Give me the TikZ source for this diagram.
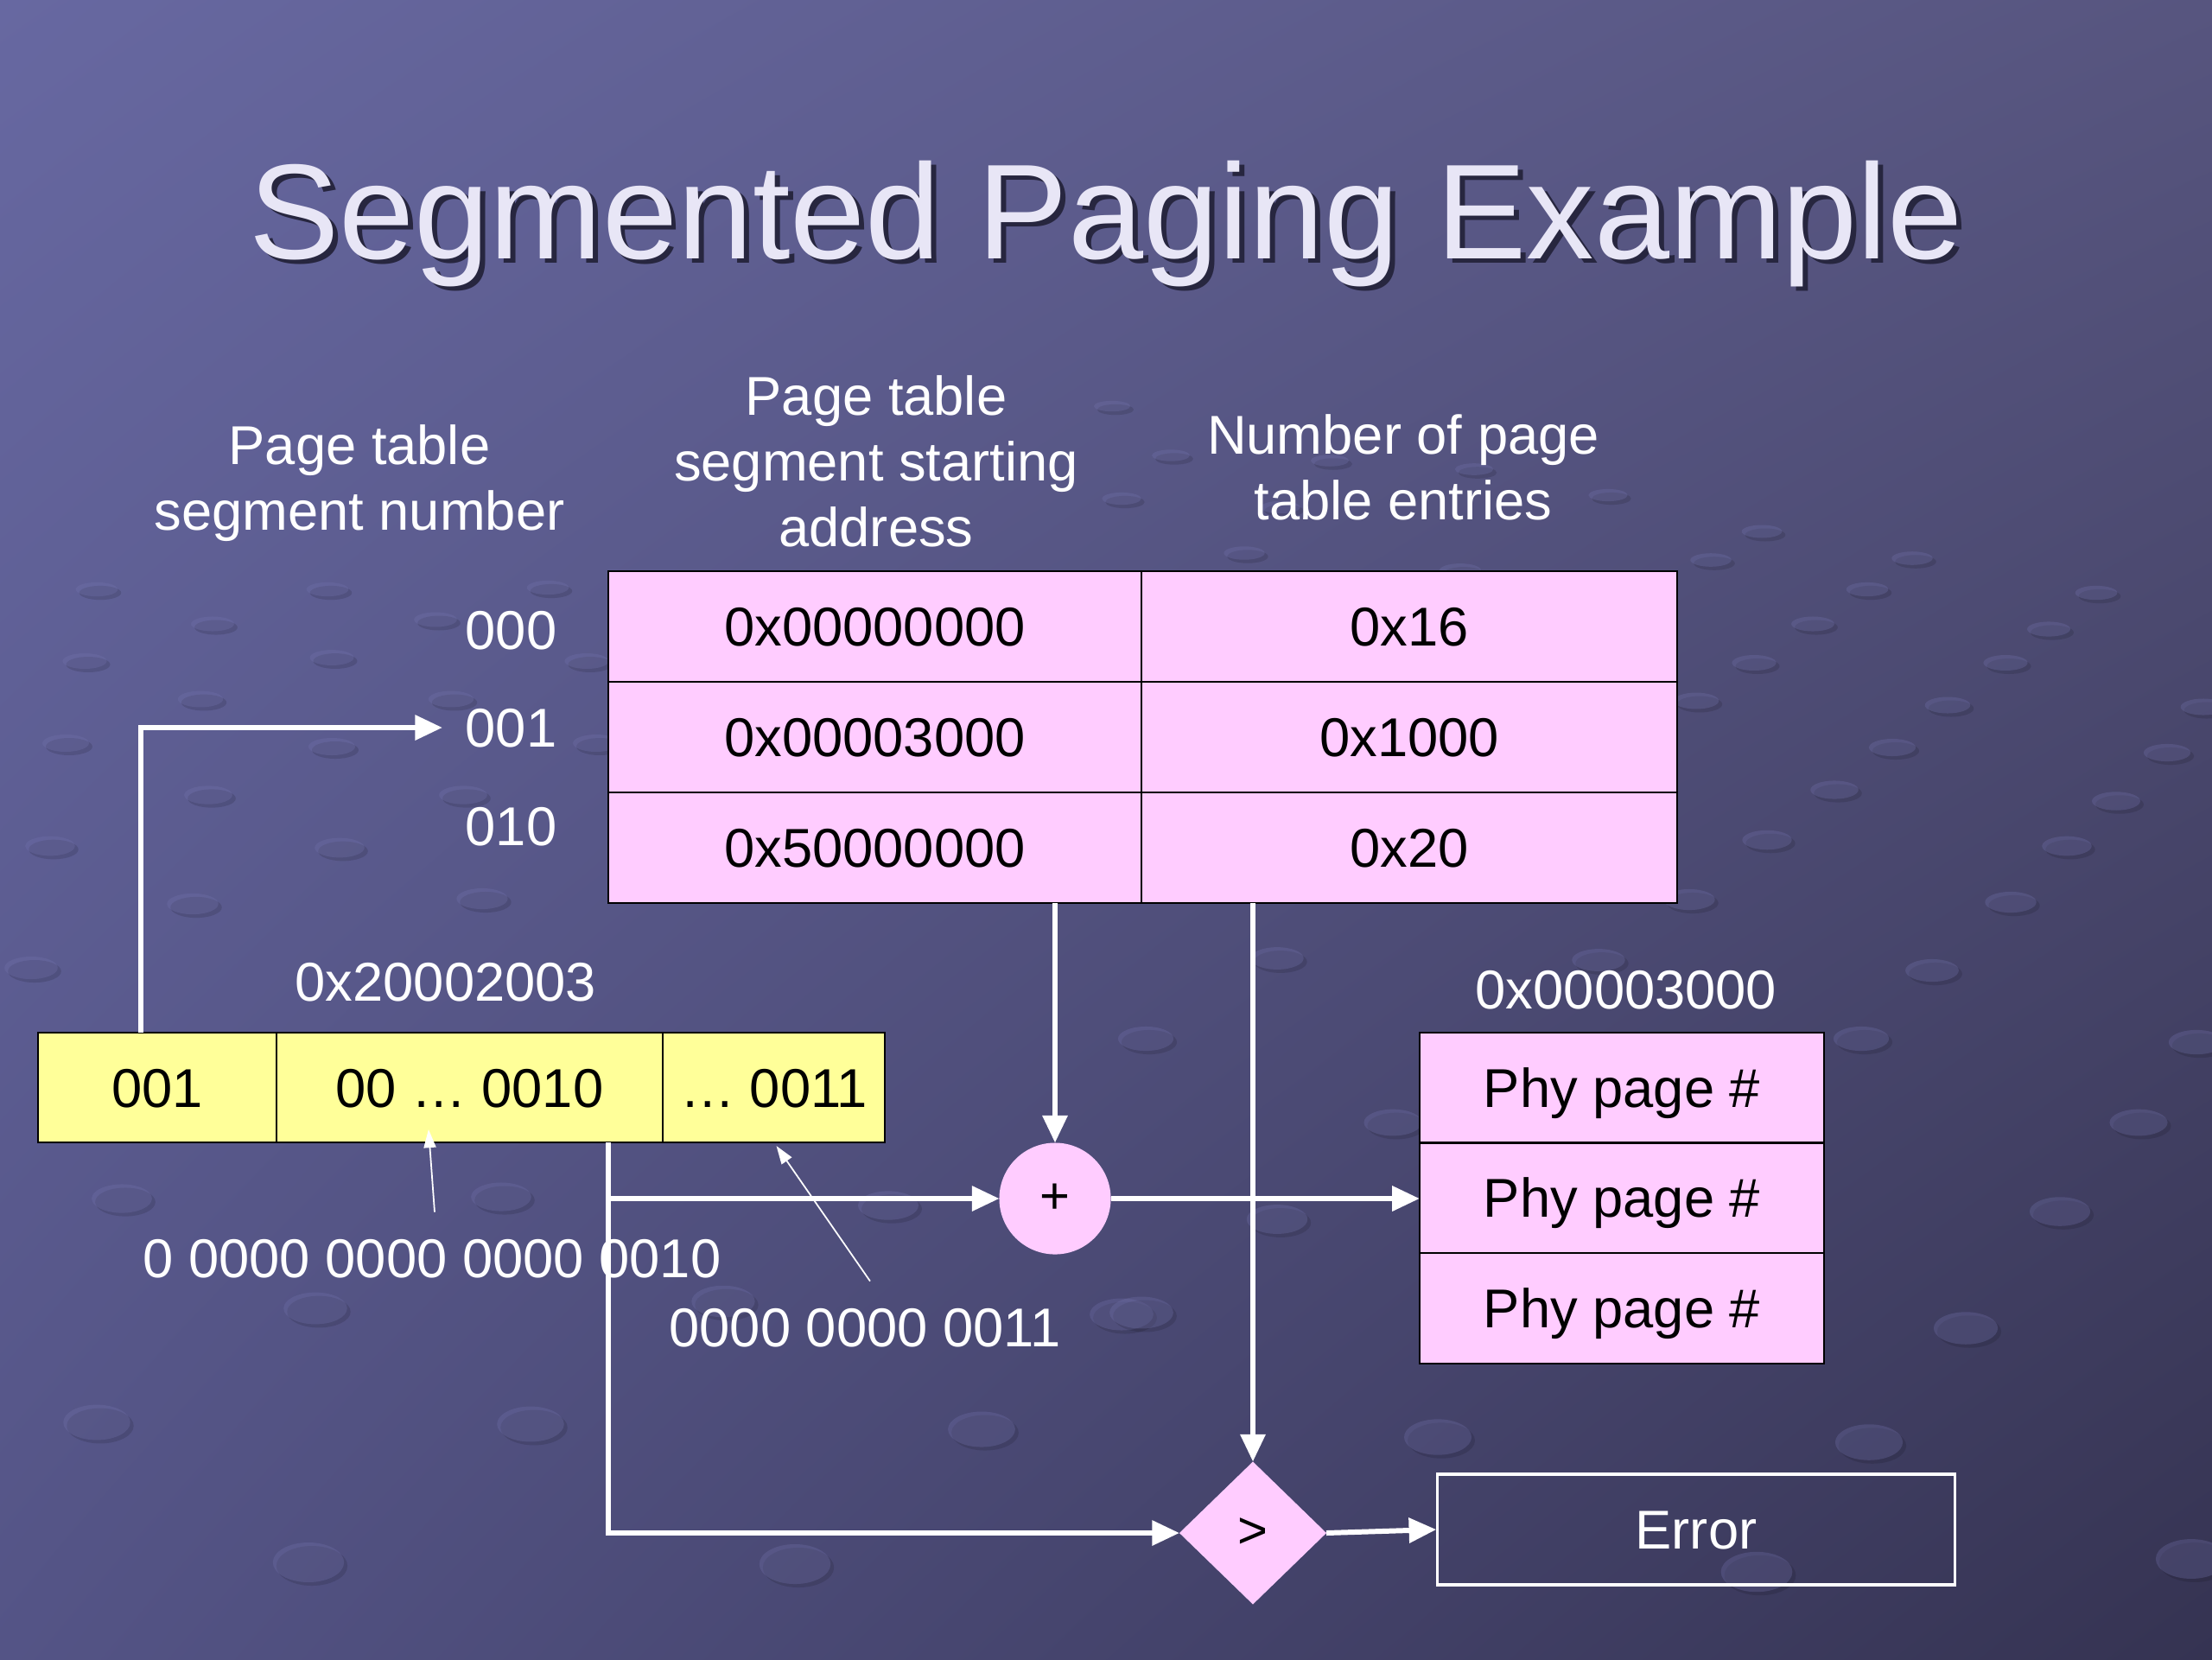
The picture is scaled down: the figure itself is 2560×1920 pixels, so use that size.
\documentclass[tikz,border=0pt]{standalone}
\usepackage{fontspec}
\setmainfont{Liberation Sans}
\usetikzlibrary{arrows.meta,shapes.geometric,calc,shadings}

\definecolor{pinkc}{HTML}{FFCCFF}
\definecolor{yelc}{HTML}{FFFF99}
\definecolor{bgUL}{HTML}{6768A1}
\definecolor{bgUR}{HTML}{57557F}
\definecolor{bgLL}{HTML}{545486}
\definecolor{bgLR}{HTML}{353352}
\definecolor{titlec}{HTML}{E8E6F6}
\definecolor{shadowc}{HTML}{27263F}
\definecolor{dotc}{HTML}{7474AE}

\begin{document}
\begin{tikzpicture}[x=0.01cm,y=-0.01cm,
  txt/.style={font=\fontsize{18}{21.6}\selectfont},
  cell/.style={txt, draw=black, line width=0.6pt, inner sep=0pt, outer sep=0pt,
    text height=12.9pt, text depth=0pt},
  pinkcell/.style={cell, fill=pinkc, minimum width=#1},
  yelcell/.style={cell, fill=yelc, minimum width=#1, minimum height=1.27cm},
  phycell/.style={cell, fill=pinkc, minimum width=4.68cm, minimum height=1.275cm},
  wlabel/.style={txt, text=white, inner sep=0pt, text height=12.9pt, text depth=0pt},
  mlabel/.style={txt, text=white, align=center, inner sep=0pt},
  wline/.style={draw=white, line width=1.7pt},
  warrow/.style={wline, -{Triangle[length=9pt,width=8pt]}},
  tarrow/.style={draw=white, line width=0.5pt, -{Triangle[length=6pt,width=4pt]}},
  opnode/.style={fill=pinkc, inner sep=0pt, outer sep=0pt, font=\fontsize{17}{20}\selectfont}
]
% background
\useasboundingbox (0,0) rectangle (2560,1920);
\shade[upper left=bgUL, upper right=bgUR, lower left=bgLL, lower right=bgLR]
  (0,0) rectangle (2560,1920);
\begin{scope}
\clip (0,0) rectangle (2560,1920);
\foreach \px/\py in {141/1387,580/1385,365/1514,837/1506,1028/1395,112/1646,614/1648,1136/1654,
  357/1808,920/1810,1298/1521,1478/1109,1326/1202,1612/1299,1478/1411,1321/1519,1664/1663,
  2163/1669,2033/1819,2536/1804,2275/1537,2384/1402,2475/1299,2154/1202,2236/1123,2327/1044,
  1850/1111,1955/1041,2542/1206,2392/979,2449/927,2508/871,2550/818,2045/972,2123/914,2190/865,
  2254/816,2321/767,2371/728,2426/686,2030/767,2098/722,2161/682,2213/646,1963/811,1980/648,
  2039/615,112/682,246/722,379/682,504/717,634/680,98/765,232/809,384/761,522/809,679/765,
  76/860,241/920,384/864,536/920,690/860,58/979,223/1046,393/981,558/1040,36/1120,
  1287/470,1355/527,1539/533,1706/543,1861/573,1482/587,1298/577,1440/640,1560/690,1690/660}{
  \pgfmathsetmacro\rw{(0.03*\py+28)*0.005}
  \pgfmathsetmacro\rh{(0.03*\py+28)*(0.2+0.0002*\py)*0.005}
  \fill[black, opacity=0.12] ([xshift=0.04cm,yshift=-0.04cm]\px,\py) ellipse [x radius=\rw cm, y radius=\rh cm];
  \fill[dotc, opacity=0.3] (\px,\py) ellipse [x radius=\rw cm, y radius=\rh cm];
}
\end{scope}

% title with shadow (one node)
\node[text=titlec, font=\fontsize{44.5}{54}\selectfont, anchor=base] (title) at (1280,299)
  {\makebox[0pt][l]{\kern1.7pt\raisebox{-1.7pt}{\color{shadowc}Segmented Paging Example}}Segmented Paging Example};

% column headers
\node[mlabel] (h1) at (416,559) {Page table\\segment number};
\node[mlabel] (h2) at (1014,534) {Page table\\segment starting\\address};
\node[mlabel] (h3) at (1624,541) {Number of page\\table entries};

% segment table
\node[pinkcell=6.17cm, minimum height=1.28cm] (a00) at (1012.5,725) {0x00000000};
\node[pinkcell=6.20cm, minimum height=1.28cm] (a01) at (1631,725) {0x16};
\node[pinkcell=6.17cm, minimum height=1.28cm] (a10) at (1012.5,853) {0x00003000};
\node[pinkcell=6.20cm, minimum height=1.28cm] (a11) at (1631,853) {0x1000};
\node[pinkcell=6.17cm, minimum height=1.28cm] (a20) at (1012.5,981) {0x50000000};
\node[pinkcell=6.20cm, minimum height=1.28cm] (a21) at (1631,981) {0x20};

% row labels
\node[wlabel, anchor=east] (r0) at (645,729) {000};
\node[wlabel, anchor=east] (r1) at (645,842) {001};
\node[wlabel, anchor=east] (r2) at (645,956) {010};

% virtual address
\node[wlabel] (va) at (516,1136) {0x20002003};
\node[yelcell=2.76cm] (s1) at (182,1258.5) {001};
\node[yelcell=4.47cm] (s2) at (543.5,1258.5) {00 \dots\ 0010};
\node[yelcell=2.57cm] (s3) at (895.5,1258.5) {\dots\ 0011};

% bit labels
\node[wlabel] (l1) at (500,1456) {0 0000 0000 0000 0010};
\node[wlabel] (l2) at (1001,1536) {0000 0000 0011};

% physical page table
\node[wlabel] (pa) at (1882,1145) {0x00003000};
\node[phycell] (p0) at (1877,1258.75) {Phy page \#};
\node[phycell] (p1) at (1877,1386.25) {Phy page \#};
\node[phycell] (p2) at (1877,1513.75) {Phy page \#};

% operators
\node[opnode, circle, minimum size=1.29cm] (plus) at (1221,1387) {+};
\node[opnode, diamond, minimum width=1.70cm, minimum height=1.65cm] (cmp) at (1450,1774) {\raisebox{-1.5pt}{>}};
\node[txt, text=white, draw=white, line width=0.9pt, minimum width=5.98cm, minimum height=1.28cm,
  inner sep=0pt, text height=12.9pt, text depth=0pt] (err) at (1963,1770) {Error};

% connectors
\draw[warrow] ([xshift=-0.19cm]s1.north) |- ([xshift=-0.26cm]r1.west);
\coordinate (tap) at ([xshift=1.605cm]s2.south);
\draw[warrow] (tap) |- (cmp.west);
\draw[warrow] (tap |- plus.west) -- (plus.west);
\draw[warrow] (a20.south -| plus.north) -- (plus.north);
\draw[warrow] (a21.south -| cmp.north) -- (cmp.north);
\draw[warrow] (plus.east) -- (plus.east -| p1.west);
\draw[warrow] (cmp.east) -- (err.west);
\draw[tarrow] ([xshift=0.03cm,yshift=0.3cm]l1.north) -- ([xshift=-0.475cm,yshift=0.15cm]s2.south);
\draw[tarrow] ([xshift=0.06cm,yshift=0.3cm]l2.north) -- ([xshift=0.03cm,yshift=-0.04cm]s3.south);
\end{tikzpicture}
\end{document}
